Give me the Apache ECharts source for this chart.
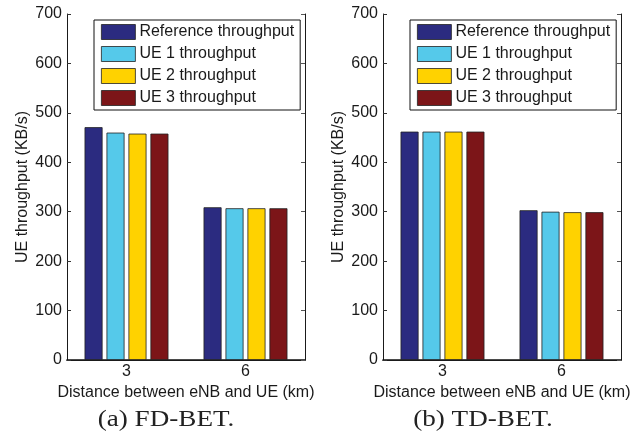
<!DOCTYPE html>
<html>
<head>
<meta charset="utf-8">
<script src="https://cdn.jsdelivr.net/npm/echarts@6/dist/echarts.min.js"></script>
<style>html,body{margin:0;padding:0;background:#fff;}#c{width:644px;height:435px;}</style>
</head>
<body>
<div id="c"></div>
<script>
const categories = ['3', '6'];
const seriesNames = ['Reference throughput', 'UE 1 throughput', 'UE 2 throughput', 'UE 3 throughput'];
const fdRef = [471, 309];
const fdUE1 = [460, 307];
const fdUE2 = [458, 307];
const fdUE3 = [458, 307];
const tdRef = [462, 303];
const tdUE1 = [462, 300];
const tdUE2 = [462, 299];
const tdUE3 = [462, 299];
const yTicks = [0, 100, 200, 300, 400, 500, 600, 700];
const captions = ['(a) FD-BET.', '(b) TD-BET.'];
const xTitle = 'Distance between eNB and UE (km)';
const yTitle = 'UE throughput (KB/s)';

const colors = ['#2b2b80', '#55c9ea', '#ffd200', '#7c1518'];
const FONT = 'Liberation Sans, Arial, Helvetica, sans-serif';
const TXT = '#1a1a1a';
const chart = echarts.init(document.getElementById('c'), null, {renderer: 'canvas'});

const grids = [
  {left: 67, right: 339, top: 14, bottom: 75},
  {left: 383, right: 23, top: 14, bottom: 75}
];
const xAxes = [], yAxes = [], series = [], legends = [];
const groups = [[fdRef, fdUE1, fdUE2, fdUE3], [tdRef, tdUE1, tdUE2, tdUE3]];
const lineStyle = {color: '#1a1a1a', width: 1};

grids.forEach((g, i) => {
  xAxes.push({
    type: 'category', gridIndex: i, data: categories, position: 'bottom',
    axisLine: {lineStyle: {color: '#111', width: 1.6}},
    axisTick: {inside: true, alignWithLabel: true, length: 4, lineStyle: {color: '#333'}},
    axisLabel: {color: TXT, fontFamily: FONT, fontSize: 16, margin: 4},
    name: xTitle, nameLocation: 'middle', nameGap: 22,
    nameTextStyle: {color: TXT, fontFamily: FONT, fontSize: 16}
  });
  xAxes.push({
    type: 'category', gridIndex: i, data: categories, position: 'top',
    axisLine: {lineStyle: lineStyle},
    axisTick: {inside: true, alignWithLabel: true, length: 4, lineStyle: {color: '#333'}},
    axisLabel: {show: false}
  });
  yAxes.push({
    type: 'value', gridIndex: i, min: 0, max: 700, interval: 100, position: 'left',
    axisLine: {show: true, lineStyle: lineStyle},
    axisTick: {show: true, inside: true, length: 4, lineStyle: {color: '#333'}},
    splitLine: {show: false},
    axisLabel: {color: TXT, fontFamily: FONT, fontSize: 16, margin: 5,
      formatter: v => yTicks.indexOf(v) >= 0 ? String(v) : ''},
    name: yTitle, nameLocation: 'middle', nameGap: 36, nameRotate: 90,
    nameTextStyle: {color: TXT, fontFamily: FONT, fontSize: 16}
  });
  yAxes.push({
    type: 'value', gridIndex: i, min: 0, max: 700, interval: 100, position: 'right',
    axisLine: {show: true, lineStyle: lineStyle},
    axisTick: {show: true, inside: true, length: 4, lineStyle: {color: '#555'}},
    splitLine: {show: false},
    axisLabel: {show: false}
  });
  groups[i].forEach((data, k) => {
    series.push({
      type: 'bar', name: seriesNames[k], xAxisIndex: i * 2, yAxisIndex: i * 2,
      data: data, barWidth: 18, barGap: '22%',
      itemStyle: {color: colors[k], borderColor: '#222', borderWidth: 0.8},
      emphasis: {disabled: true}
    });
  });
  const leftPx = i === 0 ? 94 : 410;
  legends.push({
    orient: 'vertical', left: leftPx, top: 20,
    data: seriesNames,
    itemWidth: 34, itemHeight: 15, itemGap: 6,
    padding: [4, 6, 4, 7],
    borderColor: '#111', borderWidth: 1, backgroundColor: '#fff',
    textStyle: {color: TXT, fontFamily: FONT, fontSize: 16, padding: [0, 0, 0, -1]},
    selectedMode: false,
    icon: 'rect',
    itemStyle: {borderColor: '#222', borderWidth: 0.8}
  });
});

const graphic = captions.map((t, i) => ({
  type: 'text',
  x: i === 0 ? 166 : 483, y: 420,
  originX: 0, originY: 0,
  scaleX: 1.18,
  style: {text: t, font: '23px "Liberation Serif", "Times New Roman", serif',
    fill: '#222', align: 'center', verticalAlign: 'middle'}
}));

chart.setOption({
  animation: false,
  backgroundColor: '#fff',
  color: colors,
  grid: grids,
  xAxis: xAxes,
  yAxis: yAxes,
  legend: legends,
  series: series,
  graphic: graphic
});
</script>
</body>
</html>
